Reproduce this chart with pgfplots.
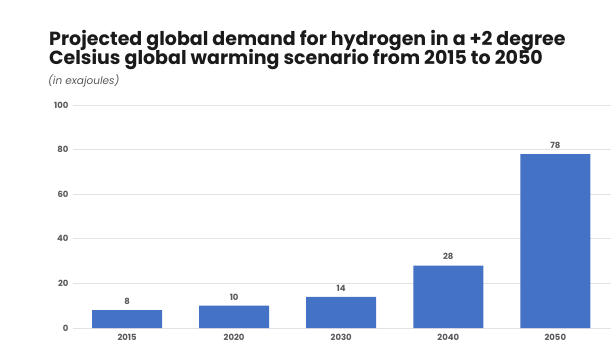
\documentclass[border=0pt]{standalone}
\usepackage{fontspec}
\setmainfont{Poppins}
\usepackage{pgfplots}
\pgfplotsset{compat=1.18}
\definecolor{barblue}{HTML}{4472C4}
\definecolor{ticktext}{HTML}{595959}
\definecolor{titletext}{HTML}{1A1A1A}
\definecolor{gridgray}{HTML}{E3E3E3}
\begin{document}
\begin{tikzpicture}
\begin{axis}[
  scale only axis, width=538pt, height=223pt,
  xmin=-0.505, xmax=4.52, ymin=0, ymax=100,
  ybar, bar width=70pt,
  axis line style={draw=none},
  major tick length=0pt,
  xtick={0,1,2,3,4},
  xticklabels={2015,2020,2030,2040,2050},
  ytick={0,20,40,60,80,100},
  ymajorgrids, grid style={gridgray, line width=0.8pt},
  tick label style={font=\bfseries\fontsize{8.5}{10}\selectfont, text=ticktext},
  /pgf/number format/assume math mode=true,
  yticklabel style={xshift=-1pt},
  xticklabel style={yshift=-3pt},
  nodes near coords,
  nodes near coords style={font=\bfseries\fontsize{8.5}{10}\selectfont, text=ticktext, yshift=2pt},
  clip=false,
]
\addplot[fill=barblue, draw=none] coordinates {(0,8) (1,10) (2,14) (3,28) (4,78)};
\end{axis}
\begin{scope}[x=1pt,y=1pt,shift={(-73pt,-32pt)}]
\node[anchor=base west, inner sep=0pt, font=\bfseries\fontsize{19}{21}\selectfont, text=titletext] at (49,315) {Projected global demand for hydrogen in a +2 degree};
\node[anchor=base west, inner sep=0pt, font=\bfseries\fontsize{19}{21}\selectfont, text=titletext] at (49,296) {Celsius global warming scenario from 2015 to 2050};
\node[anchor=base west, inner sep=0pt, font=\itshape\fontsize{10.5}{12}\selectfont, text=ticktext] at (48,276) {(in exajoules)};
\pgfresetboundingbox
\path (0,0) rectangle (611,360);
\end{scope}
\end{tikzpicture}
\end{document}
